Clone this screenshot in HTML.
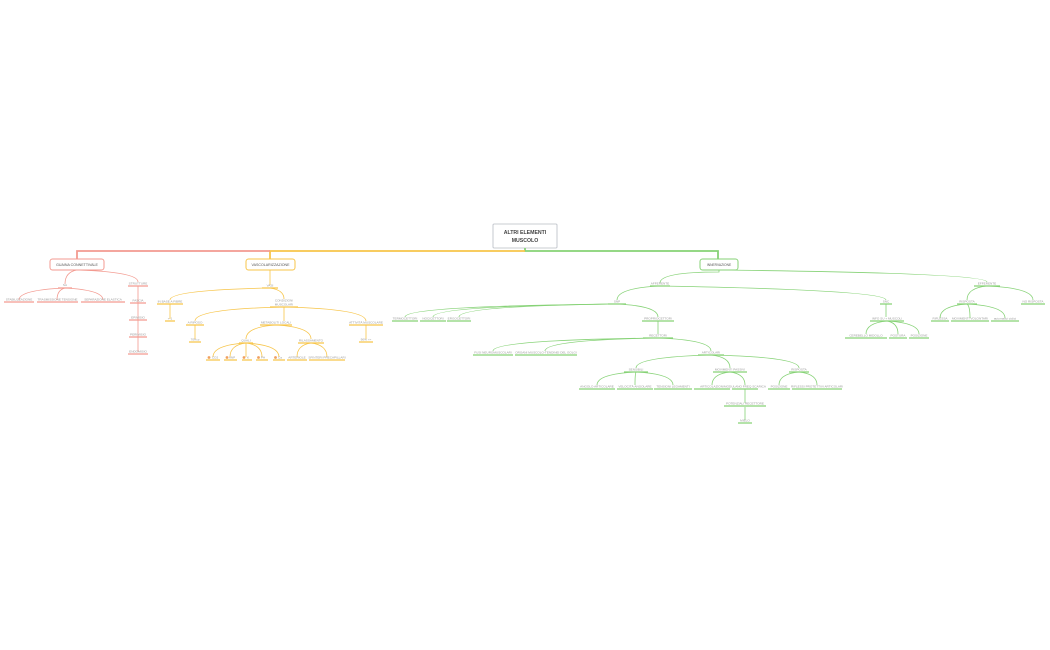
<!DOCTYPE html>
<html><head><meta charset="utf-8"><style>
html,body{margin:0;padding:0;background:#fff;width:1050px;height:650px;overflow:hidden}
svg{display:block}
text{font-family:"Liberation Sans",sans-serif;font-size:3.1px;fill:#9a9a9a;text-anchor:middle}
.r{stroke:#f39a90;fill:none}
.y{stroke:#f7c54a;fill:none}
.g{stroke:#86d276;fill:none}
</style></head><body>
<svg width="1050" height="650" viewBox="0 0 1050 650" xmlns="http://www.w3.org/2000/svg">
<rect x="493" y="224" width="64" height="24" fill="#fff" stroke="#b8bcc4" stroke-width="0.8" rx="1"/>
<text x="525" y="234" style="font-size:5.2px;fill:#444;font-weight:bold">ALTRI ELEMENTI</text>
<text x="525" y="242" style="font-size:5.2px;fill:#444;font-weight:bold">MUSCOLO</text>
<path d="M525 248 V251 H718 V259" class="g" stroke-width="1.8"/>
<path d="M525 251 H270 V259" class="y" stroke-width="1.8"/>
<path d="M270 251 H77 V259" class="r" stroke-width="1.8"/>
<rect x="50" y="259" width="54" height="11" rx="2.5" fill="#fff" stroke="#f39a90" stroke-width="1"/>
<text x="77" y="266" style="font-size:3.6px;fill:#555">GUAINA CONNETTIVALE</text>
<rect x="246" y="259" width="49" height="11" rx="2.5" fill="#fff" stroke="#f7c54a" stroke-width="1"/>
<text x="270.5" y="266" style="font-size:3.6px;fill:#555">VASCOLARIZZAZIONE</text>
<rect x="700" y="259" width="38" height="11" rx="2.5" fill="#fff" stroke="#86d276" stroke-width="1"/>
<text x="719" y="266" style="font-size:3.3px;fill:#555">INNERVAZIONE</text>

<g class="r" stroke-width="0.8">
<path d="M77 270 Q65 272 65 284"/><path d="M77 270 Q138 272 138 282"/>
<path d="M65 288 Q19 290 19 300"/><path d="M65 288 Q57 290 57 300"/><path d="M65 288 Q103 290 103 300"/>
<path d="M138 286 V352"/>
<path d="M58 288 H72 M4 302 H34 M37 302 H78 M81 302 H125 M128 286 H148 M130 303 H146 M129 320 H147 M129 337 H147 M128 354 H148" stroke-width="1.3"/>
</g>
<text x="65" y="286">SA</text>
<text x="19" y="300.5">STABILIZZAZIONE</text>
<text x="57.5" y="300.5">TRASMISSIONE TENSIONE</text>
<text x="103" y="300.5">SEPARAZIONE ELASTICA</text>
<text x="138" y="284.5">STRUTTURE</text>
<text x="138" y="301.5">FASCIA</text>
<text x="138" y="318.5">EPIMISIO</text>
<text x="138" y="335.5">PERIMISIO</text>
<text x="138" y="352.5">ENDOMISIO</text>

<g class="y" stroke-width="0.8">
<path d="M270 270 V285"/>
<path d="M270 288 Q170 290 170 300"/><path d="M270 288 Q284 290 284 299"/>
<path d="M170 304 V319"/>
<path d="M284 307 Q195 309 195 321"/><path d="M284 307 V321"/><path d="M284 307 Q366 309 366 321"/>
<path d="M195 325 V339"/><path d="M366 325 V339"/>
<path d="M276 325 Q246 327 246 339"/><path d="M276 325 Q311 327 311 339"/>
<path d="M246 343 Q213 345 213 357"/><path d="M246 343 Q230 345 230 357"/><path d="M246 343 V357"/><path d="M246 343 Q262 345 262 357"/><path d="M246 343 Q279 345 279 357"/>
<path d="M311 343 Q297 345 297 357"/><path d="M311 343 Q327 345 327 357"/>
<path d="M262 288 H278 M157 304 H183 M165 321 H175 M270 307 H298 M186 325 H204 M189 342 H201 M260 325 H292 M239 343 H253 M298 343 H324 M349 325 H383 M359 342 H373 M206 360 H220 M224 360 H237 M242 360 H252 M256 360 H268 M273 360 H285 M287 360 H307 M309 360 H345" stroke-width="1.3"/>
</g>
<text x="270" y="286.5">VASI</text>
<text x="170" y="302.5">IN BASE A FIBRE</text>
<text x="170" y="319.5">+ 1</text>
<text x="284" y="301.5">CONDIZIONI</text>
<text x="284" y="305.5">MUSCOLARI</text>
<text x="195" y="323.5">A RIPOSO</text>
<text x="195" y="340.5">70% p</text>
<text x="276" y="323.5">METABOLITI LOCALI</text>
<text x="366" y="323.5">ATTIVITÀ MUSCOLARE</text>
<text x="366" y="340.5">90% &gt;&gt;</text>
<text x="246" y="341.5">QUALI</text>
<text x="311" y="341.5">RILASSAMENTO</text>
<g fill="#f0a060"><circle cx="209" cy="357.5" r="1.4"/><circle cx="227" cy="357.5" r="1.4"/><circle cx="244" cy="357.5" r="1.4"/><circle cx="258.5" cy="357.5" r="1.4"/><circle cx="275.5" cy="357.5" r="1.4"/></g>
<text x="215" y="358.5">CO2</text><text x="232" y="358.5">ANP</text><text x="248" y="358.5">K</text><text x="263" y="358.5">PH</text><text x="280" y="358.5">Ca</text>
<text x="297" y="358.5">ARTERIOLE</text>
<text x="327" y="358.5">SFINTERI PRECAPILLARI</text>

<g class="g" stroke-width="0.8">
<path d="M719 270 V272 Q660 272 660 283"/><path d="M719 270 Q987 273 987 282"/>
<path d="M660 286 Q617 288 617 300"/><path d="M660 286 Q886 290 886 300"/>
<path d="M617 304 Q405 306 405 317"/><path d="M617 304 Q433 306 433 317"/><path d="M617 304 Q459 306 459 317"/><path d="M617 304 Q658 306 658 317"/>
<path d="M658 321 V334"/>
<path d="M658 338 Q493 340 493 351"/><path d="M658 338 Q545 340 545 351"/><path d="M658 338 Q711 340 711 351"/>
<path d="M711 355 Q636 357 636 368"/><path d="M711 355 Q730 357 730 368"/><path d="M711 355 Q799 357 799 368"/>
<path d="M636 372 Q597 374 597 385"/><path d="M636 372 Q635 374 635 385"/><path d="M636 372 Q673 374 673 385"/>
<path d="M730 372 Q712 374 712 385"/><path d="M730 372 Q745 374 745 385"/>
<path d="M799 372 Q779 374 779 385"/><path d="M799 372 Q817 374 817 385"/>
<path d="M745 389 V403"/><path d="M745 407 V420"/>
<path d="M987 286 Q967 288 967 300"/><path d="M987 286 Q1033 288 1033 300"/>
<path d="M967 304 Q940 306 940 318"/><path d="M967 304 Q970 306 970 318"/><path d="M967 304 Q1005 306 1005 318"/>
<path d="M886 304 V317"/>
<path d="M887 321 Q866 323 866 334"/><path d="M887 321 Q898 323 898 334"/><path d="M887 321 Q919 323 919 334"/>
<path d="M650 286 H670 M608 304 H626 M392 321 H418 M420 321 H446 M447 321 H471 M642 321 H674 M643 338 H673 M473 355 H513 M515 355 H577 M698 355 H724 M624 372 H648 M713 372 H747 M789 372 H809 M579 389 H615 M617 389 H653 M654 389 H692 M694 389 H730 M732 389 H758 M768 389 H790 M792 389 H842 M724 406 H766 M738 423 H752 M974 286 H1000 M957 304 H977 M1021 304 H1045 M931 321 H949 M951 321 H989 M991 321 H1019 M880 304 H892 M870 321 H904 M845 338 H887 M889 338 H907 M909 338 H929" stroke-width="1.3"/>
</g>
<text x="660" y="284.5">AFFERENTE</text>
<text x="617" y="302.5">SNP</text>
<text x="405" y="319.5">TERMOCETTORI</text>
<text x="433" y="319.5">NOCICETTORI</text>
<text x="459" y="319.5">ERGOCETTORI</text>
<text x="658" y="319.5">PROPRIOCETTORI</text>
<text x="658" y="336.5">RECETTORI</text>
<text x="493" y="353.5">FUSI NEUROMUSCOLARI</text>
<text x="546" y="353.5">ORGANI MUSCOLO-TENDINEI DEL GOLGI</text>
<text x="711" y="353.5">ARTICOLARI</text>
<text x="636" y="370.5">SENSIBILI</text>
<text x="730" y="370.5">MOVIMENTI PASSIVI</text>
<text x="799" y="370.5">RISPOSTA</text>
<text x="597" y="387.5">ANGOLO ARTICOLARE</text>
<text x="635" y="387.5">VELOCITÀ ANGOLARE</text>
<text x="673" y="387.5">TENSIONI LEGAMENTI</text>
<text x="712" y="387.5">ARTICOLAZIONI</text>
<text x="745" y="387.5">MODULANO FREQ SCARICA</text>
<text x="779" y="387.5">POSIZIONE</text>
<text x="817" y="387.5">RIFLESSI PROTETTIVI ARTICOLARI</text>
<text x="745" y="404.5">POTENZIALI RECETTORE</text>
<text x="745" y="421.5">MIELO</text>
<text x="987" y="284.5">EFFERENTE</text>
<text x="967" y="302.5">RISPOSTA</text>
<text x="1033" y="302.5">NO RISPOSTA</text>
<text x="940" y="319.5">RIFLESSA</text>
<text x="970" y="319.5">MOVIMENTI VOLONTARI</text>
<text x="1005" y="319.5">automatici ciclici</text>
<text x="886" y="302.5">SNC</text>
<text x="887" y="319.5">INFO SU + MUSCOLI</text>
<text x="866" y="336.5">CEREBELLO MIDOLLO</text>
<text x="898" y="336.5">POSTURA</text>
<text x="919" y="336.5">POSIZIONE</text>
</svg>
</body></html>
